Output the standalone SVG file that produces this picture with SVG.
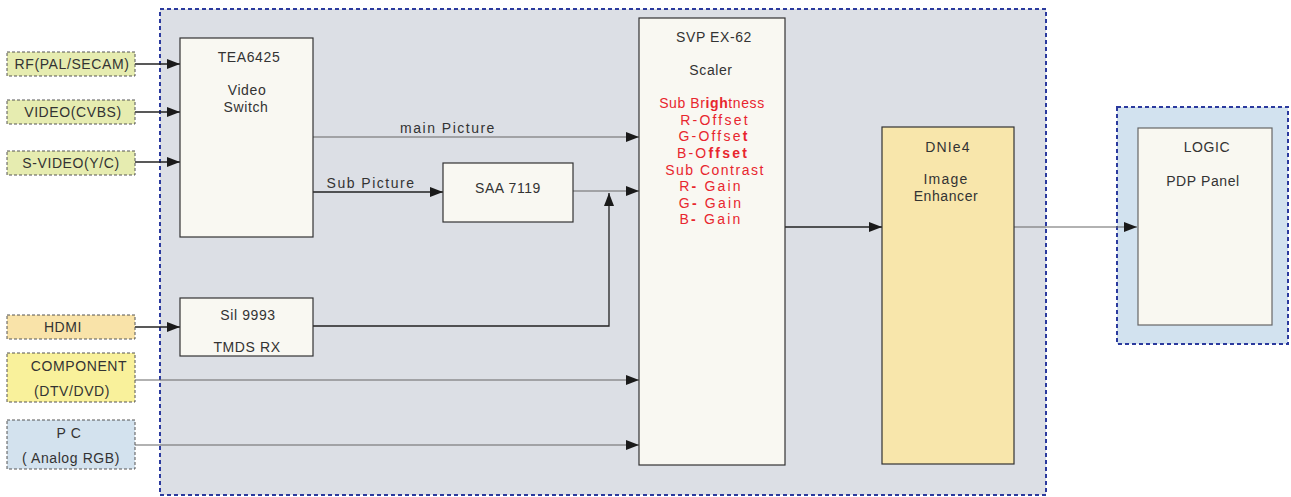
<svg xmlns="http://www.w3.org/2000/svg" width="1291" height="497" viewBox="0 0 1291 497">
<defs>
<marker id="ah" markerUnits="userSpaceOnUse" markerWidth="14" markerHeight="10" refX="13" refY="5" orient="auto">
<path d="M0,0 L13,5 L0,10 Z" fill="#1a1a1a"/>
</marker>
</defs>
<style>
text{font-family:"Liberation Sans",Arial,sans-serif;font-size:14px;fill:#333;text-anchor:middle;letter-spacing:0.6px}
.red{fill:#e8262e}
.b{font-weight:bold}
.w2{letter-spacing:2.2px}
.w1{letter-spacing:1.5px}
.grp{stroke:#2b3a9e;stroke-width:2;stroke-dasharray:4 3}
.blk{fill:#f9f8f2;stroke:#333;stroke-width:1.2}
.inp{stroke:#555;stroke-width:1;stroke-dasharray:3 2}
.ln{fill:none;stroke:#222;stroke-width:1.3}
.lg{fill:none;stroke:#666;stroke-width:1.1}
</style>
<rect x="160" y="9" width="886" height="486" fill="#dcdfe5" class="grp"/>
<rect x="1117" y="107" width="171" height="237" fill="#d2e2ef" class="grp"/>

<g id="connectors">
<line x1="135" y1="64" x2="180" y2="64" class="ln" marker-end="url(#ah)"/>
<line x1="135" y1="112" x2="180" y2="112" class="ln" marker-end="url(#ah)"/>
<line x1="135" y1="162" x2="180" y2="162" class="ln" marker-end="url(#ah)"/>
<line x1="135" y1="327" x2="180" y2="327" class="ln" marker-end="url(#ah)"/>
<line x1="313" y1="137" x2="639" y2="137" class="lg" marker-end="url(#ah)"/>
<line x1="313" y1="192" x2="443" y2="192" class="ln" marker-end="url(#ah)"/>
<line x1="573" y1="191" x2="639" y2="191" class="lg" marker-end="url(#ah)"/>
<polyline points="311,326 609,326 609,193" class="ln" marker-end="url(#ah)"/>
<line x1="135" y1="380" x2="639" y2="380" class="lg" marker-end="url(#ah)"/>
<line x1="135" y1="445" x2="639" y2="445" class="lg" marker-end="url(#ah)"/>
<line x1="785" y1="227" x2="882" y2="227" class="ln" marker-end="url(#ah)"/>
<line x1="1014" y1="227" x2="1137" y2="227" class="lg" marker-end="url(#ah)"/>
<text class="w1" x="448" y="133">main Picture</text>
<text class="w1" x="371" y="188">Sub Picture</text>
</g>

<g id="in-rf"><rect x="7" y="52" width="128" height="24" fill="#e6ecb0" class="inp"/><text x="72" y="69">RF(PAL/SECAM)</text></g>
<g id="in-video"><rect x="7" y="100" width="128" height="24" fill="#e6ecb0" class="inp"/><text x="73" y="117">VIDEO(CVBS)</text></g>
<g id="in-svideo"><rect x="7" y="151" width="128" height="24" fill="#e6ecb0" class="inp"/><text x="71" y="168">S-VIDEO(Y/C)</text></g>
<g id="in-hdmi"><rect x="7" y="315" width="128" height="24" fill="#f9e3a9" class="inp"/><text x="63" y="332">HDMI</text></g>
<g id="in-comp"><rect x="7" y="353" width="128" height="49" fill="#f9f19b" class="inp"/><text x="79" y="371">COMPONENT</text><text x="72" y="396">(DTV/DVD)</text></g>
<g id="in-pc"><rect x="7" y="420" width="128" height="49" fill="#d3e2ee" class="inp"/><text x="69" y="438">P C</text><text x="71" y="463">( Analog RGB)</text></g>

<g id="tea"><rect x="180" y="38" width="133" height="199" class="blk"/><text x="249" y="62">TEA6425</text><text x="247" y="95">Video</text><text x="246" y="112">Switch</text></g>
<g id="sil"><rect x="180" y="298" width="133" height="58" class="blk"/><text x="248" y="320">Sil 9993</text><text x="247" y="352">TMDS RX</text></g>
<g id="saa"><rect x="443" y="163" width="130" height="59" class="blk"/><text x="508" y="193">SAA 7119</text></g>
<g id="svp"><rect x="639" y="18" width="146" height="447" class="blk"/>
<text x="714" y="42">SVP EX-62</text><text x="711" y="75">Scaler</text>
<text class="red" x="712" y="108">Sub Br<tspan class="b">igh</tspan>tness</text>
<text class="red w2" x="715" y="125">R-Offset</text>
<text class="red w2" x="714" y="141">G-Offse<tspan class="b">t</tspan></text>
<text class="red w2" x="713" y="158">B-O<tspan class="b">ffset</tspan></text>
<text class="red" x="715" y="175" style="letter-spacing:1.5px">Sub Contrast</text>
<text class="red w2" x="711" y="191">R<tspan class="b">-</tspan> Gain</text>
<text class="red w2" x="711" y="208">G<tspan class="b">-</tspan> Gain</text>
<text class="red w2" x="711" y="224">B<tspan class="b">-</tspan> Gain</text>
</g>
<g id="dnie"><rect x="882" y="127" width="132" height="337" fill="#f8e6ab" stroke="#333" stroke-width="1.2"/><text x="948" y="152" style="letter-spacing:1.2px">DNIe4</text><text x="946" y="184" style="letter-spacing:1.2px">Image</text><text x="946" y="201">Enhancer</text></g>
<g id="logic"><rect x="1138" y="128" width="134" height="197" fill="#f9f8f1" stroke="#666" stroke-width="1.2"/><text x="1207" y="152">LOGIC</text><text x="1203" y="186">PDP Panel</text></g>
</svg>
